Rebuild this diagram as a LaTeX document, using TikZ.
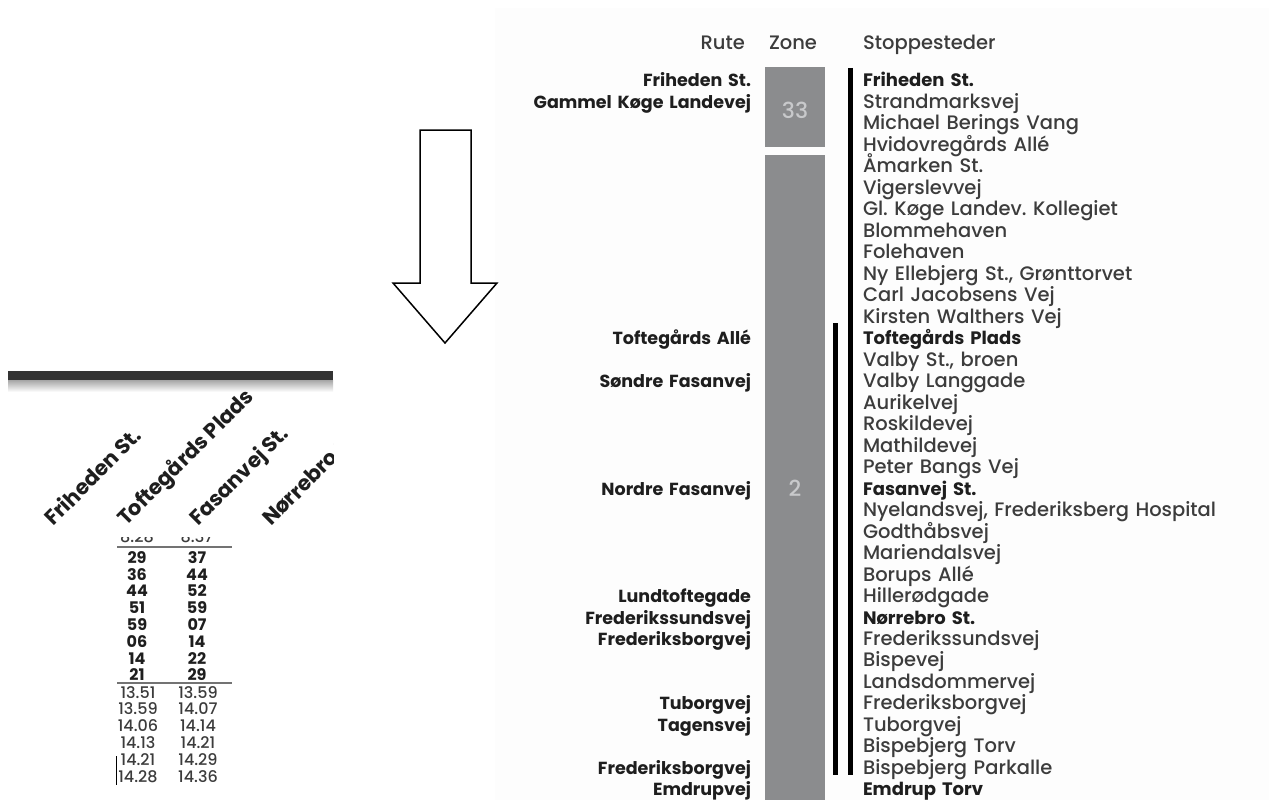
\documentclass[tikz,border=0pt]{standalone}
\usepackage{fontspec}
\setmainfont{Poppins}
\newfontfamily\medfont{Poppins Medium}
\usepackage{tikz}
\usetikzlibrary{positioning}

\definecolor{ink}{HTML}{3C3C3C}
\definecolor{dark}{HTML}{1E1E1E}
\definecolor{zonegray}{HTML}{8B8C8E}
\definecolor{zonetext}{HTML}{C8C9CB}
\definecolor{panel}{HTML}{FDFDFD}

\begin{document}
\begin{tikzpicture}[x=1pt,y=-1pt,node distance=21.48pt,
    stop/.style={text width=380pt,align=left,inner sep=0pt,text height=14pt,text depth=0pt,
      font=\fontsize{19.5}{20}\medfont,text=ink},
    bstop/.style={stop,font=\fontsize{18}{20}\selectfont\bfseries,text=dark},
    rute/.style={stop,text width=300pt,align=right,node distance=452pt,
      font=\fontsize{17.5}{20}\selectfont\bfseries,text=dark},
    head/.style={inner sep=0pt,text height=14pt,text depth=0pt,font=\fontsize{19.5}{20}\medfont,text=ink},
    zone/.style={inner sep=0pt,font=\fontsize{22}{22}\medfont,text=zonetext},
    rail/.style={line width=5pt},
    rot/.style={rotate=45,anchor=base west,inner sep=0pt,font=\fontsize{21}{20}\selectfont\bfseries,text=dark},
    num/.style={inner sep=0pt,text height=11pt,text depth=0pt,node distance=60pt,
      font=\fontsize{16}{16}\medfont,text=ink},
    bnum/.style={num,font=\fontsize{16}{16}\selectfont\bfseries,text=dark}]
  \useasboundingbox (0,0) rectangle (1269,800);
  \fill[panel] (495,8) rectangle (1269,800);

  % arrow
  \draw[line width=1.5pt,line join=miter] (420,130) -- (471,130) -- (471,283) -- (497,283)
    -- (445,343) -- (393,283) -- (420,283) -- cycle;

  % left: timetable
  \begin{scope}
    \clip (8,0) rectangle (333,800);
    \fill[black!80] (8,371) rectangle (333,380);
    \shade[top color=black!35,bottom color=white] (8,380) rectangle (333,392);
    \node[rot] (l_0) at (53,527)  {Friheden St.};
    \node[rot] (l_1) at (126,527) {Toftegårds Plads};
    \node[rot] (l_2) at (198,527) {Fasanvej St.};
    \node[rot] (l_3) at (271,527) {Nørrebro St.};
  \end{scope}
  \begin{scope}
    \clip (100,537) rectangle (240,546);
    \node[num] (c_0) at (137,537) {8.28};
    \node[num] (d_0) [right of=c_0] {8.37};
  \end{scope}
  \draw[black!55,line width=1.5pt] (117,547) -- (232,547);
  \node[bnum] (c_1) at (137,558) {29}; \node[bnum] (d_1) [right of=c_1] {37};
  \node[bnum] (c_2) at (137,575) {36}; \node[bnum] (d_2) [right of=c_2] {44};
  \node[bnum] (c_3) at (137,591) {44}; \node[bnum] (d_3) [right of=c_3] {52};
  \node[bnum] (c_4) at (137,608) {51}; \node[bnum] (d_4) [right of=c_4] {59};
  \node[bnum] (c_5) at (137,625) {59}; \node[bnum] (d_5) [right of=c_5] {07};
  \node[bnum] (c_6) at (137,642) {06}; \node[bnum] (d_6) [right of=c_6] {14};
  \node[bnum] (c_7) at (137,659) {14}; \node[bnum] (d_7) [right of=c_7] {22};
  \node[bnum] (c_8) at (137,675) {21}; \node[bnum] (d_8) [right of=c_8] {29};
  \draw[black!55,line width=1.5pt] (117,683) -- (232,683);
  \node[num] (c_9)  at (138,693) {13.51}; \node[num] (d_9)  [right of=c_9]  {13.59};
  \node[num] (c_10) at (138,709) {13.59}; \node[num] (d_10) [right of=c_10] {14.07};
  \node[num] (c_11) at (138,726) {14.06}; \node[num] (d_11) [right of=c_11] {14.14};
  \node[num] (c_12) at (138,743) {14.13}; \node[num] (d_12) [right of=c_12] {14.21};
  \node[num] (c_13) at (138,760) {14.21}; \node[num] (d_13) [right of=c_13] {14.29};
  \node[num] (c_14) at (138,777) {14.28}; \node[num] (d_14) [right of=c_14] {14.36};
  \draw[line width=0.8pt] (116,756) -- (116,785);

  % right: route table
  \node[head,anchor=east] (h_0) at (745,42) {Rute};
  \node[head] (h_1) at (793,42) {Zone};
  \node[head,anchor=west] (h_2) at (863,42) {Stoppesteder};

  \fill[zonegray] (765,67) rectangle (825,147);
  \fill[zonegray] (765,155) rectangle (825,800);
  \node[zone] (z_0) at (795,110) {33};
  \node[zone] (z_1) at (795,488) {2};
  \draw[rail] (850,68) -- (850,775);
  \draw[rail] (835,323) -- (835,775);

  \node[bstop] (s_0) at (1053,80) {Friheden St.};
  \node[stop] (s_1) [below of=s_0] {Strandmarksvej};
  \node[stop] (s_2) [below of=s_1] {Michael Berings Vang};
  \node[stop] (s_3) [below of=s_2] {Hvidovregårds Allé};
  \node[stop] (s_4) [below of=s_3] {Åmarken St.};
  \node[stop] (s_5) [below of=s_4] {Vigerslevvej};
  \node[stop] (s_6) [below of=s_5] {Gl.\ Køge Landev.\ Kollegiet};
  \node[stop] (s_7) [below of=s_6] {Blommehaven};
  \node[stop] (s_8) [below of=s_7] {Folehaven};
  \node[stop] (s_9) [below of=s_8] {Ny Ellebjerg St., Grønttorvet};
  \node[stop] (s_10) [below of=s_9] {Carl Jacobsens Vej};
  \node[stop] (s_11) [below of=s_10] {Kirsten Walthers Vej};
  \node[bstop] (s_12) [below of=s_11] {Toftegårds Plads};
  \node[stop] (s_13) [below of=s_12] {Valby St., broen};
  \node[stop] (s_14) [below of=s_13] {Valby Langgade};
  \node[stop] (s_15) [below of=s_14] {Aurikelvej};
  \node[stop] (s_16) [below of=s_15] {Roskildevej};
  \node[stop] (s_17) [below of=s_16] {Mathildevej};
  \node[stop] (s_18) [below of=s_17] {Peter Bangs Vej};
  \node[bstop] (s_19) [below of=s_18] {Fasanvej St.};
  \node[stop] (s_20) [below of=s_19] {Nyelandsvej, Frederiksberg Hospital};
  \node[stop] (s_21) [below of=s_20] {Godthåbsvej};
  \node[stop] (s_22) [below of=s_21] {Mariendalsvej};
  \node[stop] (s_23) [below of=s_22] {Borups Allé};
  \node[stop] (s_24) [below of=s_23] {Hillerødgade};
  \node[bstop] (s_25) [below of=s_24] {Nørrebro St.};
  \node[stop] (s_26) [below of=s_25] {Frederikssundsvej};
  \node[stop] (s_27) [below of=s_26] {Bispevej};
  \node[stop] (s_28) [below of=s_27] {Landsdommervej};
  \node[stop] (s_29) [below of=s_28] {Frederiksborgvej};
  \node[stop] (s_30) [below of=s_29] {Tuborgvej};
  \node[stop] (s_31) [below of=s_30] {Bispebjerg Torv};
  \node[stop] (s_32) [below of=s_31] {Bispebjerg Parkalle};
  \node[bstop] (s_33) [below of=s_32] {Emdrup Torv};

  \node[rute] (r_0) [left of=s_0] {Friheden St.};
  \node[rute] (r_1) [left of=s_1] {Gammel Køge Landevej};
  \node[rute] (r_12) [left of=s_12] {Toftegårds Allé};
  \node[rute] (r_14) [left of=s_14] {Søndre Fasanvej};
  \node[rute] (r_19) [left of=s_19] {Nordre Fasanvej};
  \node[rute] (r_24) [left of=s_24] {Lundtoftegade};
  \node[rute] (r_25) [left of=s_25] {Frederikssundsvej};
  \node[rute] (r_26) [left of=s_26] {Frederiksborgvej};
  \node[rute] (r_29) [left of=s_29] {Tuborgvej};
  \node[rute] (r_30) [left of=s_30] {Tagensvej};
  \node[rute] (r_32) [left of=s_32] {Frederiksborgvej};
  \node[rute] (r_33) [left of=s_33] {Emdrupvej};
\end{tikzpicture}
\end{document}
